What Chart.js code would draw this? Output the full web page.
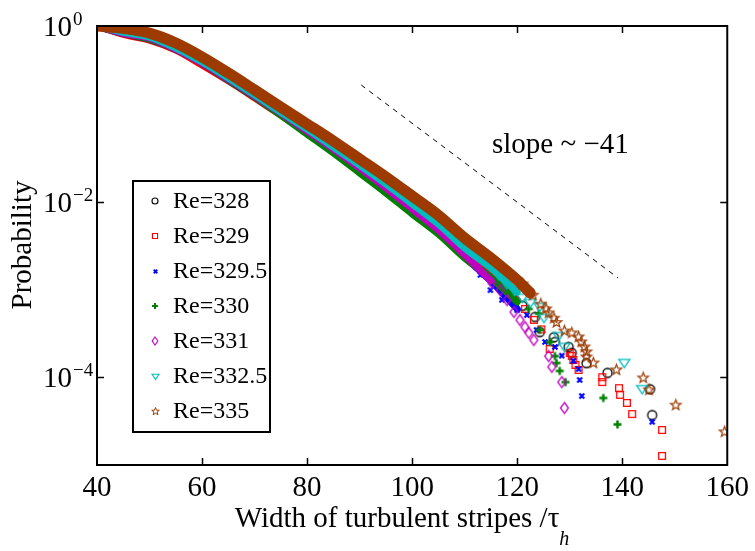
<!DOCTYPE html>
<html>
<head>
<meta charset="utf-8">
<script src="https://cdn.jsdelivr.net/npm/chart.js@4/dist/chart.umd.min.js"></script>
<style>
    html, body { margin: 0; padding: 0; background: #fff; }
    #wrap { width: 755px; height: 551px; position: relative; }
</style>
</head>
<body>
<div id="wrap"><canvas id="stripeChart"></canvas></div>
<script>
// DATA: dense part of each distribution, x = width / tau_h
const bodyX = [40, 45, 50, 55, 60, 65, 70, 75, 80, 85, 90, 95, 100, 105, 110, 115, 120, 122.5];

const body328   = [1.0, 0.824, 0.709, 0.547, 0.379, 0.249, 0.160, 0.1016, 0.0636, 0.0397, 0.0242, 0.0147, 0.00869, 0.00511, 0.00274, 0.00158, 0.00075];
const body329   = [1.0, 0.803, 0.691, 0.532, 0.360, 0.237, 0.152, 0.0965, 0.062, 0.0387, 0.0235, 0.0143, 0.00825, 0.00473, 0.00246, 0.00142, 0.00076];
const body329_5 = [1.0, 0.824, 0.709, 0.547, 0.379, 0.243, 0.156, 0.099, 0.062, 0.0387, 0.0235, 0.0139, 0.00804, 0.0046, 0.00234, 0.00125, 0.00060];
const body330   = [1.0, 0.824, 0.709, 0.547, 0.379, 0.243, 0.156, 0.0965, 0.0588, 0.0358, 0.0212, 0.01255, 0.00724, 0.00426, 0.00228, 0.00135, 0.00072];
const body331   = [1.0, 0.824, 0.728, 0.547, 0.379, 0.249, 0.160, 0.1016, 0.0636, 0.0397, 0.0242, 0.0143, 0.00825, 0.00473, 0.00246, 0.00125];
const body332_5 = [1.0, 0.846, 0.747, 0.561, 0.389, 0.256, 0.164, 0.104, 0.0671, 0.0418, 0.0261, 0.0159, 0.0094, 0.00553, 0.00296, 0.00175, 0.00093];
const body335   = [1.0, 0.94, 0.83, 0.64, 0.444, 0.292, 0.187, 0.119, 0.0765, 0.049, 0.0306, 0.0191, 0.0116, 0.0070, 0.00385, 0.00228, 0.00128, 0.00091];

// DATA: sparse tail points
const tailX328 = [114.3, 118.5, 121.0, 123.4, 124.3, 127.0, 127.2, 129.8, 130.4, 133.2, 137.2, 145.3, 145.7];
const tailY328 = [1.46e-3, 9.0e-4, 6.5e-4, 4.85e-4, 3.27e-4, 2.85e-4, 2.52e-4, 2.21e-4, 1.89e-4, 1.45e-4, 1.12e-4, 7.3e-5, 3.7e-5];

const tailX329 = [121.5, 123.2, 124.6, 126.2, 130.0, 130.4, 130.7, 131.1, 131.7, 136.2, 136.2, 139.4, 139.6, 140.9, 141.9, 147.6, 147.6];
const tailY329 = [6.0e-4, 4.5e-4, 3.5e-4, 2.1e-4, 1.89e-4, 1.75e-4, 1.57e-4, 1.38e-4, 1.21e-4, 1.0e-4, 8.8e-5, 7.5e-5, 6.3e-5, 5.1e-5, 3.8e-5, 2.5e-5, 1.27e-5];

const tailX329_5 = [113.0, 114.9, 117.1, 120.0, 121.85, 123.7, 125.3, 127.2, 128.5, 130.7, 131.7, 131.9, 132.3, 145.7];
const tailY329_5 = [1.46e-3, 9.8e-4, 7.6e-4, 5.8e-4, 5.1e-4, 3.45e-4, 2.52e-4, 2.21e-4, 1.76e-4, 1.53e-4, 1.24e-4, 9.3e-5, 6.1e-5, 3.1e-5];

const tailX330 = [122.2, 124.1, 124.3, 126.2, 127.2, 127.5, 128.1, 129.2, 136.4, 139.1];
const tailY330 = [6.0e-4, 5.3e-4, 3.45e-4, 2.52e-4, 1.74e-4, 1.45e-4, 1.18e-4, 8.8e-5, 5.8e-5, 2.9e-5];

const tailX331 = [112.4, 115.2, 116.75, 118.07, 119.39, 120.53, 121.47, 122.23, 123.18, 126.0, 126.6, 128.5, 129.0];
const tailY331 = [1.9e-3, 1.18e-3, 9.8e-4, 7.57e-4, 5.53e-4, 4.48e-4, 3.73e-4, 3.19e-4, 2.65e-4, 1.74e-4, 1.31e-4, 8.8e-5, 4.46e-5];

const tailX332_5 = [116.5, 118.0, 119.5, 121.0, 122.5, 124.3, 125.1, 127.9, 129.0, 140.4, 143.8];
const tailY332_5 = [1.45e-3, 1.15e-3, 9.6e-4, 8.0e-4, 7.0e-4, 6.3e-4, 4.72e-4, 2.94e-4, 2.21e-4, 1.45e-4, 7.3e-5];

const tailX335 = [121.0, 123.0, 124.5, 125.5, 126.0, 127.0, 127.5, 129.0, 130.4, 131.7, 132.2, 132.8, 133.2, 133.2, 134.5, 138.9, 144.0, 145.1, 150.2, 159.5];
const tailY335 = [1.15e-3, 8.6e-4, 6.8e-4, 6.0e-4, 5.4e-4, 4.7e-4, 4.2e-4, 3.36e-4, 3.19e-4, 2.87e-4, 2.52e-4, 2.21e-4, 1.94e-4, 1.70e-4, 1.45e-4, 1.21e-4, 9.8e-5, 7.15e-5, 4.8e-5, 2.38e-5];

// reference slope line
const slopeX = [90.3, 139.2];
const slopeY = [0.213, 1.35e-3];

const seriesLabels = ["Re=328", "Re=329", "Re=329.5", "Re=330", "Re=331", "Re=332.5", "Re=335"];
const seriesColors = ["#000000", "#ff0000", "#0000ff", "#008000", "#c000c0", "#00bdbd", "#9c3a00"];
const seriesMarkers = ["circle", "square", "x", "plus", "diamond", "tridown", "pentagram"];

const bodies = [body328, body329, body329_5, body330, body331, body332_5, body335];
const tailsX = [tailX328, tailX329, tailX329_5, tailX330, tailX331, tailX332_5, tailX335];
const tailsY = [tailY328, tailY329, tailY329_5, tailY330, tailY331, tailY332_5, tailY335];

const SERIF = "'Liberation Serif', 'Times New Roman', serif";

// little canvases used as matlab-like marker glyphs
function makeMarker(kind, color, s, lw) {
    const size = Math.ceil(s + lw + 4);
    const c = document.createElement("canvas");
    c.width = size;
    c.height = size;
    const g = c.getContext("2d");
    g.translate(size / 2, size / 2);
    g.strokeStyle = color;
    g.lineWidth = lw;
    g.beginPath();
    const r = s / 2;
    if (kind === "circle") {
        g.arc(0, 0, r, 0, Math.PI * 2);
    } else if (kind === "square") {
        g.rect(-r * 0.85, -r * 0.85, r * 1.7, r * 1.7);
    } else if (kind === "x") {
        g.moveTo(-r * 0.7, -r * 0.7); g.lineTo(r * 0.7, r * 0.7);
        g.moveTo(r * 0.7, -r * 0.7); g.lineTo(-r * 0.7, r * 0.7);
    } else if (kind === "plus") {
        g.moveTo(-r, 0); g.lineTo(r, 0);
        g.moveTo(0, -r); g.lineTo(0, r);
    } else if (kind === "diamond") {
        g.moveTo(0, -r); g.lineTo(r * 0.72, 0); g.lineTo(0, r); g.lineTo(-r * 0.72, 0);
        g.closePath();
    } else if (kind === "tridown") {
        g.moveTo(-r, -r * 0.65); g.lineTo(r, -r * 0.65); g.lineTo(0, r * 0.85);
        g.closePath();
    } else if (kind === "pentagram") {
        for (let k = 0; k < 10; k++) {
            const a = -Math.PI / 2 + k * Math.PI / 5;
            const rr = k % 2 === 0 ? r : r * 0.42;
            if (k === 0) g.moveTo(rr * Math.cos(a), rr * Math.sin(a));
            else g.lineTo(rr * Math.cos(a), rr * Math.sin(a));
        }
        g.closePath();
    }
    g.stroke();
    return c;
}

const plotSizes = { circle: [9, 1.3], square: [8, 1.3], x: [7, 2.2], plus: [8, 2.4], diamond: [11, 1.3], tridown: [11, 1.3], pentagram: [11, 1.2] };
const legSizes = { circle: [6, 1.1], square: [6, 1.1], x: [5, 1.8], plus: [6, 2.0], diamond: [8, 1.1], tridown: [7, 1.1], pentagram: [8, 1.0] };

const plotMarkers = seriesMarkers.map((m, i) => makeMarker(m, seriesColors[i], plotSizes[m][0], plotSizes[m][1]));
const legendMarkers = seriesMarkers.map((m, i) => makeMarker(m, seriesColors[i], legSizes[m][0], legSizes[m][1]));

// BUILD DATASETS
const datasets = [];
for (let i = 0; i < seriesLabels.length; i++) {
    datasets.push({
        label: seriesLabels[i] + " body",
        data: bodies[i].map((y, k) => ({ x: bodyX[k], y: y })),
        showLine: true,
        borderColor: seriesColors[i],
        backgroundColor: seriesColors[i],
        borderWidth: i === 6 ? 11 : 7,
        borderCapStyle: "round",
        borderJoinStyle: "round",
        cubicInterpolationMode: "monotone",
        pointRadius: 0,
        order: 100 - 2 * i
    });
    datasets.push({
        label: seriesLabels[i],
        data: tailsX[i].map((x, k) => ({ x: x, y: tailsY[i][k] })),
        showLine: false,
        pointStyle: plotMarkers[i],
        pointRadius: 4,
        order: 99 - 2 * i
    });
}
datasets.push({
    label: "slope",
    data: slopeX.map((x, k) => ({ x: x, y: slopeY[k] })),
    showLine: true,
    borderColor: "#000",
    borderWidth: 1,
    borderDash: [5, 5],
    pointRadius: 0,
    order: 0
});

// FRAME, INSIDE TICKS, LEGEND AND TEXT
const decorPlugin = {
    id: "decor",
    afterDatasetsDraw(chart) {
        const ctx = chart.ctx;
        const a = chart.chartArea;
        const xs = chart.scales.x;
        const ys = chart.scales.y;
        ctx.save();
        ctx.strokeStyle = "#000";
        ctx.lineWidth = 2;
        ctx.strokeRect(a.left, a.top, a.right - a.left, a.bottom - a.top);

        ctx.lineWidth = 1.5;
        ctx.beginPath();
        for (let v = 60; v < 160; v += 20) {
            const px = Math.round(xs.getPixelForValue(v)) + 0.5;
            ctx.moveTo(px, a.bottom); ctx.lineTo(px, a.bottom - 7);
            ctx.moveTo(px, a.top); ctx.lineTo(px, a.top + 7);
        }
        [1e-2, 1e-4].forEach(v => {
            const py = Math.round(ys.getPixelForValue(v)) + 0.5;
            ctx.moveTo(a.left, py); ctx.lineTo(a.left + 7, py);
            ctx.moveTo(a.right, py); ctx.lineTo(a.right - 7, py);
        });
        ctx.stroke();

        // y tick labels with superscript exponents
        ctx.fillStyle = "#000";
        ctx.textAlign = "left";
        ctx.textBaseline = "alphabetic";
        [[1, "0"], [1e-2, "\u22122"], [1e-4, "\u22124"]].forEach(t => {
            const py = ys.getPixelForValue(t[0]);
            ctx.font = "29px " + SERIF;
            ctx.fillText("10", 43, py + 10);
            const w = ctx.measureText("10").width;
            ctx.font = "19px " + SERIF;
            ctx.fillText(t[1], 43 + w + 1, py - 1);
        });

        // legend box
        ctx.fillStyle = "#fff";
        ctx.fillRect(133, 181, 137, 251);
        ctx.lineWidth = 2;
        ctx.strokeRect(133, 181, 137, 251);
        ctx.fillStyle = "#000";
        ctx.font = "24px " + SERIF;
        ctx.textBaseline = "middle";
        for (let i = 0; i < seriesLabels.length; i++) {
            const yy = 201 + 35 * i;
            const m = legendMarkers[i];
            ctx.drawImage(m, Math.round(155 - m.width / 2), Math.round(yy - m.height / 2));
            ctx.fillText(seriesLabels[i], 173, yy + 1);
        }

        // annotation
        ctx.textBaseline = "alphabetic";
        ctx.font = "29px " + SERIF;
        ctx.fillText("slope ~ \u221241", 492, 153);

        // axis titles
        const main = "Width of turbulent stripes /\u03c4";
        ctx.font = "29px " + SERIF;
        const wMain = ctx.measureText(main).width;
        ctx.font = "italic 20px " + SERIF;
        const wSub = ctx.measureText("h").width;
        const x0 = 402 - (wMain + wSub) / 2;
        ctx.font = "29px " + SERIF;
        ctx.fillText(main, x0, 527);
        ctx.font = "italic 20px " + SERIF;
        ctx.fillText("h", x0 + wMain, 545);

        ctx.save();
        ctx.translate(31, 245);
        ctx.rotate(-Math.PI / 2);
        ctx.font = "29px " + SERIF;
        ctx.textAlign = "center";
        ctx.fillText("Probability", 0, 0);
        ctx.restore();

        ctx.restore();
    }
};

const configBlock = {
    type: "scatter",
    data: { datasets: datasets },
    options: {
        responsive: true,
        maintainAspectRatio: false,
        animation: false,
        events: [],
        layout: { padding: { top: 26, right: 23, left: 0, bottom: 0 } },
        plugins: { legend: { display: false }, tooltip: { enabled: false } },
        scales: {
            x: {
                type: "linear",
                min: 40,
                max: 160,
                grid: { display: false, drawTicks: false },
                border: { display: false },
                ticks: {
                    stepSize: 20,
                    padding: 6,
                    color: "#000",
                    font: { family: SERIF, size: 29 }
                },
                afterFit(scale) { scale.height = 86; }
            },
            y: {
                type: "logarithmic",
                min: 1e-5,
                max: 1,
                grid: { display: false, drawTicks: false },
                border: { display: false },
                ticks: { display: false },
                afterFit(scale) { scale.width = 97; }
            }
        }
    },
    plugins: [decorPlugin]
};

const stripeChart = new Chart(document.getElementById("stripeChart").getContext("2d"), configBlock);
</script>
</body>
</html>
